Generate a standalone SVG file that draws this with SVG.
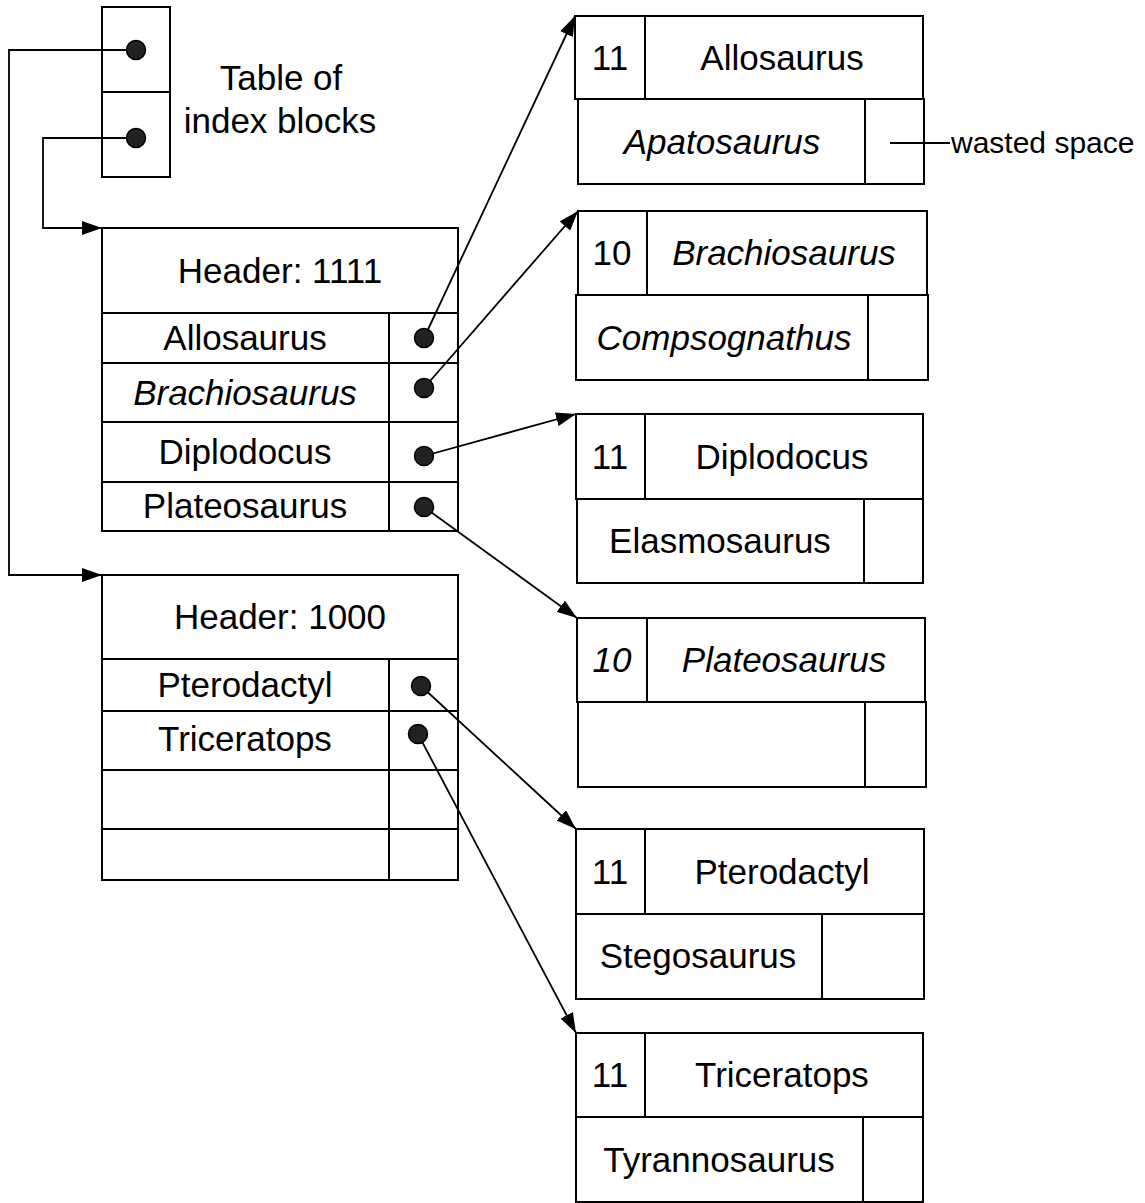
<svg xmlns="http://www.w3.org/2000/svg" width="1145" height="1203" viewBox="0 0 1145 1203">
<style>
.box{fill:#fff;stroke:#000;stroke-width:2}
.ln{stroke:#000;stroke-width:2;fill:none}
.t{font-family:"Liberation Sans",Arial,sans-serif;font-size:35px;fill:#000;text-anchor:middle}
.i{font-style:italic}
.dot{fill:#222;stroke:#000;stroke-width:1.5}
.con{stroke:#000;stroke-width:1.8;fill:none;marker-end:url(#arr)}
.small{font-family:"Liberation Sans",Arial,sans-serif;font-size:30px;fill:#000}
</style>
<defs>
<marker id="arr" viewBox="0 0 20 14" refX="20" refY="7" markerWidth="20" markerHeight="14" markerUnits="userSpaceOnUse" orient="auto">
<path d="M0,0 L20,7 L0,14 z" fill="#000"/>
</marker>
</defs>
<rect width="1145" height="1203" fill="#fff"/>

<g id="table">
<rect class="box" x="102" y="7" width="68" height="170"/>
<line class="ln" x1="102" y1="92" x2="170" y2="92"/>
<text class="t" x="281" y="90">Table of</text>
<text class="t" x="280" y="133">index blocks</text>
</g>

<g id="index1">
<rect class="box" x="102" y="228" width="356" height="303"/>
<line class="ln" x1="102" y1="313" x2="458" y2="313"/>
<line class="ln" x1="102" y1="363" x2="458" y2="363"/>
<line class="ln" x1="102" y1="422" x2="458" y2="422"/>
<line class="ln" x1="102" y1="482" x2="458" y2="482"/>
<line class="ln" x1="389" y1="313" x2="389" y2="531"/>
<text class="t" x="280" y="283">Header: 1111</text>
<text class="t" x="245" y="350">Allosaurus</text>
<text class="t i" x="245" y="405">Brachiosaurus</text>
<text class="t" x="245" y="464">Diplodocus</text>
<text class="t" x="245" y="518">Plateosaurus</text>
</g>

<g id="index2">
<rect class="box" x="102" y="575" width="356" height="305"/>
<line class="ln" x1="102" y1="659" x2="458" y2="659"/>
<line class="ln" x1="102" y1="711" x2="458" y2="711"/>
<line class="ln" x1="102" y1="770" x2="458" y2="770"/>
<line class="ln" x1="102" y1="829" x2="458" y2="829"/>
<line class="ln" x1="389" y1="659" x2="389" y2="880"/>
<text class="t" x="280" y="629">Header: 1000</text>
<text class="t" x="245" y="697">Pterodactyl</text>
<text class="t" x="245" y="751">Triceratops</text>
</g>

<g id="blockA">
<rect class="box" x="575" y="16" width="348" height="83"/>
<line class="ln" x1="645" y1="16" x2="645" y2="99"/>
<rect class="box" x="578" y="99" width="346" height="85"/>
<line class="ln" x1="865" y1="99" x2="865" y2="184"/>
<text class="t" x="610" y="70">11</text>
<text class="t" x="782" y="70">Allosaurus</text>
<text class="t i" x="722" y="154">Apatosaurus</text>
</g>

<g id="blockB">
<rect class="box" x="578" y="211" width="349" height="84"/>
<line class="ln" x1="647" y1="211" x2="647" y2="295"/>
<rect class="box" x="576" y="295" width="352" height="85"/>
<line class="ln" x1="868" y1="295" x2="868" y2="380"/>
<text class="t" x="612" y="265">10</text>
<text class="t i" x="784" y="265">Brachiosaurus</text>
<text class="t i" x="724" y="350">Compsognathus</text>
</g>

<g id="blockC">
<rect class="box" x="576" y="414" width="347" height="85"/>
<line class="ln" x1="645" y1="414" x2="645" y2="499"/>
<rect class="box" x="577" y="499" width="346" height="84"/>
<line class="ln" x1="864" y1="499" x2="864" y2="583"/>
<text class="t" x="610" y="469">11</text>
<text class="t" x="782" y="469">Diplodocus</text>
<text class="t" x="720" y="553">Elasmosaurus</text>
</g>

<g id="blockD">
<rect class="box" x="577" y="618" width="348" height="84"/>
<line class="ln" x1="647" y1="618" x2="647" y2="702"/>
<rect class="box" x="578" y="702" width="348" height="85"/>
<line class="ln" x1="865" y1="702" x2="865" y2="787"/>
<text class="t i" x="612" y="672">10</text>
<text class="t i" x="784" y="672">Plateosaurus</text>
</g>

<g id="blockE">
<rect class="box" x="576" y="829" width="348" height="85"/>
<line class="ln" x1="645" y1="829" x2="645" y2="914"/>
<rect class="box" x="576" y="914" width="348" height="85"/>
<line class="ln" x1="822" y1="914" x2="822" y2="999"/>
<text class="t" x="610" y="884">11</text>
<text class="t" x="782" y="884">Pterodactyl</text>
<text class="t" x="698" y="968">Stegosaurus</text>
</g>

<g id="blockF">
<rect class="box" x="576" y="1033" width="347" height="84"/>
<line class="ln" x1="645" y1="1033" x2="645" y2="1117"/>
<rect class="box" x="576" y="1117" width="347" height="85"/>
<line class="ln" x1="863" y1="1117" x2="863" y2="1202"/>
<text class="t" x="610" y="1087">11</text>
<text class="t" x="782" y="1087">Triceratops</text>
<text class="t" x="719" y="1172">Tyrannosaurus</text>
</g>

<g id="note">
<line x1="890" y1="143" x2="950" y2="143" stroke="#000" stroke-width="1.8"/>
<text class="small" x="951" y="153">wasted space</text>
</g>

<g id="connectors">
<polyline class="con" points="136,50 9,50 9,575 102,575"/>
<polyline class="con" points="136,138 43,138 43,228 102,228"/>
<line class="con" x1="424" y1="338" x2="575" y2="16"/>
<line class="con" x1="424" y1="388" x2="578" y2="211"/>
<line class="con" x1="424" y1="456" x2="576" y2="414"/>
<line class="con" x1="424" y1="507" x2="577" y2="618"/>
<line class="con" x1="421" y1="686" x2="576" y2="829"/>
<line class="con" x1="418" y1="734" x2="576" y2="1033"/>
</g>

<g id="dots">
<circle class="dot" cx="136" cy="50" r="9.5"/>
<circle class="dot" cx="136" cy="138" r="9.5"/>
<circle class="dot" cx="424" cy="338" r="9.5"/>
<circle class="dot" cx="424" cy="388" r="9.5"/>
<circle class="dot" cx="424" cy="456" r="9.5"/>
<circle class="dot" cx="424" cy="507" r="9.5"/>
<circle class="dot" cx="421" cy="686" r="9.5"/>
<circle class="dot" cx="418" cy="734" r="9.5"/>
</g>
</svg>
